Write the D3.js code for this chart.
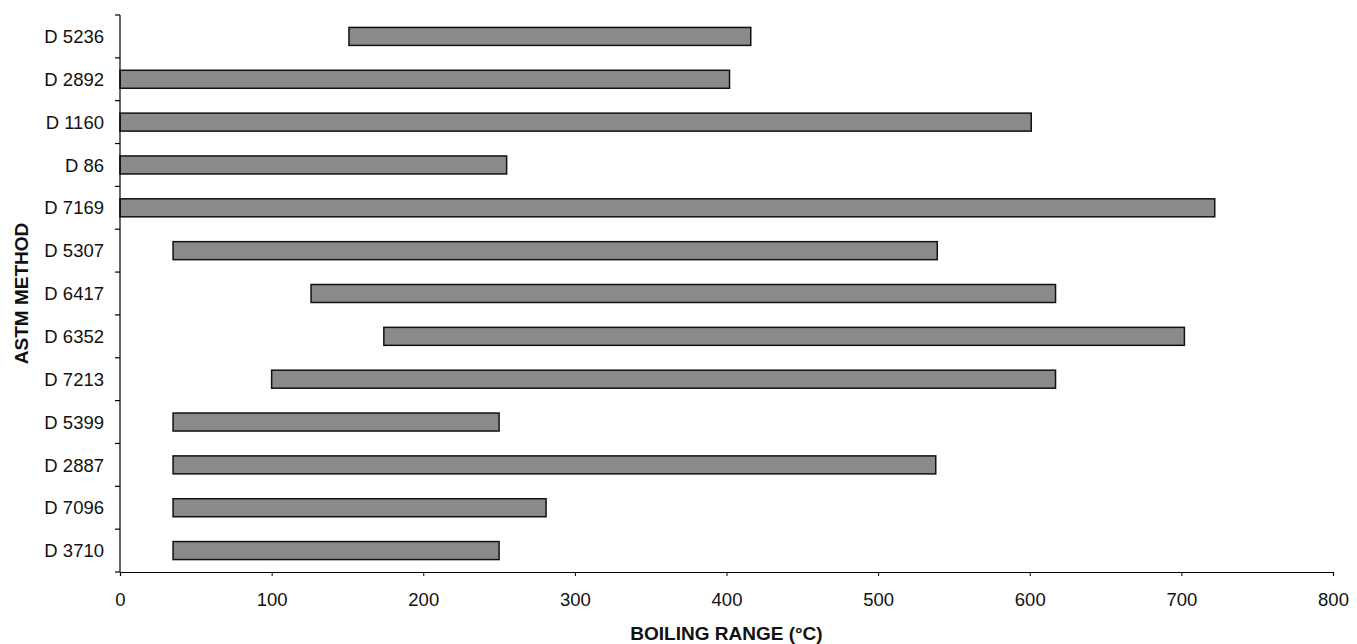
<!DOCTYPE html>
<html>
<head>
<meta charset="utf-8">
<script src="https://cdn.jsdelivr.net/npm/d3@7"></script>
<style>
  html, body { margin: 0; padding: 0; background: #fff; }
  svg { display: block; font-family: "Liberation Sans", Arial, sans-serif; }
</style>
</head>
<body>
<svg id="chart" width="1357" height="644"></svg>
<script>
// ASTM methods, top to bottom
const methods = ["D 5236", "D 2892", "D 1160", "D 86", "D 7169", "D 5307", "D 6417",
                 "D 6352", "D 7213", "D 5399", "D 2887", "D 7096", "D 3710"];
// Boiling range start and end (°C)
const rangeStart = [151, 0, 0, 0, 0, 35, 126, 174, 100, 35, 35, 35, 35];
const rangeEnd   = [416, 402, 601, 255, 722, 539, 617, 702, 617, 250, 538, 281, 250];
const xTicks = [0, 100, 200, 300, 400, 500, 600, 700, 800];

const rows = methods.map((m, i) => ({ method: m, start: rangeStart[i], end: rangeEnd[i] }));

const svg = d3.select("#chart");
const margin = { left: 120, right: 24, top: 15, bottom: 72 };
const W = 1357, H = 644;
const labelSize = 18.5, titleSize = 19;

const x = d3.scaleLinear().domain([0, 800]).range([margin.left, W - margin.right]);
const y = d3.scaleBand().domain(methods).range([margin.top, H - margin.bottom]).paddingInner(0.58).paddingOuter(0.29);

// bars
svg.append("g").selectAll("rect").data(rows).join("rect")
  .attr("x", d => x(d.start))
  .attr("y", d => y(d.method))
  .attr("width", d => x(d.end) - x(d.start))
  .attr("height", y.bandwidth())
  .attr("fill", "#8a8a8a")
  .attr("stroke", "#111")
  .attr("stroke-width", 1.5);

// x axis
const xAxis = svg.append("g")
  .attr("transform", `translate(0,${H - margin.bottom})`)
  .call(d3.axisBottom(x).tickValues(xTicks).tickSize(4).tickPadding(17).tickFormat(d3.format("d")));
xAxis.select(".domain").attr("stroke", "#000").attr("stroke-width", 1.2);
xAxis.selectAll(".tick line").attr("stroke", "#000");
xAxis.selectAll("text").attr("font-size", labelSize).attr("fill", "#111")
  .attr("font-family", "Liberation Sans, Arial, sans-serif");

// y axis: ticks sit on band boundaries
const yAxisG = svg.append("g").attr("transform", `translate(${margin.left},0)`);
yAxisG.append("line")
  .attr("x1", 0).attr("x2", 0)
  .attr("y1", margin.top).attr("y2", H - margin.bottom)
  .attr("stroke", "#000").attr("stroke-width", 1.2);
const boundaries = d3.range(methods.length + 1).map(i => y.range()[0] + i * (y.range()[1] - y.range()[0]) / methods.length);
yAxisG.selectAll("line.tk").data(boundaries).join("line")
  .attr("class", "tk")
  .attr("x1", -5).attr("x2", 0)
  .attr("y1", d => d).attr("y2", d => d)
  .attr("stroke", "#000").attr("stroke-width", 1.2);
yAxisG.selectAll("text").data(methods).join("text")
  .attr("x", -16)
  .attr("y", d => y(d) + y.bandwidth() / 2)
  .attr("dy", "0.36em")
  .attr("text-anchor", "end")
  .attr("font-size", labelSize)
  .attr("fill", "#111")
  .text(d => d);

// axis titles
svg.append("text")
  .attr("x", (x.range()[0] + x.range()[1]) / 2)
  .attr("y", 640)
  .attr("text-anchor", "middle")
  .attr("font-size", titleSize)
  .attr("font-weight", "bold")
  .attr("fill", "#111")
  .text("BOILING RANGE (°C)");

svg.append("text")
  .attr("transform", `translate(28,${(margin.top + H - margin.bottom) / 2}) rotate(-90)`)
  .attr("text-anchor", "middle")
  .attr("font-size", titleSize)
  .attr("font-weight", "bold")
  .attr("fill", "#111")
  .text("ASTM METHOD");
</script>
</body>
</html>
